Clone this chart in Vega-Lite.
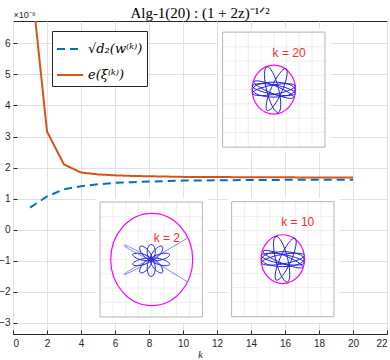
{
  "$schema": "https://vega.github.io/schema/vega-lite/v6.json",
  "width": 374,
  "height": 313,
  "autosize": {"type": "none"},
  "padding": {"left": 13, "top": 21, "right": 3, "bottom": 26},
  "background": "white",
  "title": {"text": "Alg-1(20) : (1 + 2z)⁻¹ᐟ²", "font": "Liberation Serif", "fontSize": 15, "fontWeight": "normal", "color": "#000000", "anchor": "middle", "offset": 4, "dy": 15},
  "config": {
    "view": {"stroke": "#262626", "strokeWidth": 1},
    "legend": {
      "orient": "none", "legendX": 39, "legendY": 10,
      "fillColor": "white", "strokeColor": "#262626", "padding": 4,
      "labelFont": "DejaVu Serif", "labelFontSize": 13, "labelFontStyle": "italic", "labelColor": "#000000",
      "labelOffset": 4, "rowPadding": 5,
      "symbolType": "stroke", "symbolSize": 676, "symbolStrokeWidth": 2
    }
  },
  "datasets": {
    "series": [
      {"k": 1, "v": 0.71, "s": "√d₂(w⁽ᵏ⁾)"},
      {"k": 2, "v": 1.07, "s": "√d₂(w⁽ᵏ⁾)"},
      {"k": 3, "v": 1.30, "s": "√d₂(w⁽ᵏ⁾)"},
      {"k": 4, "v": 1.40, "s": "√d₂(w⁽ᵏ⁾)"},
      {"k": 5, "v": 1.46, "s": "√d₂(w⁽ᵏ⁾)"},
      {"k": 6, "v": 1.51, "s": "√d₂(w⁽ᵏ⁾)"},
      {"k": 7, "v": 1.53, "s": "√d₂(w⁽ᵏ⁾)"},
      {"k": 8, "v": 1.55, "s": "√d₂(w⁽ᵏ⁾)"},
      {"k": 9, "v": 1.565, "s": "√d₂(w⁽ᵏ⁾)"},
      {"k": 10, "v": 1.58, "s": "√d₂(w⁽ᵏ⁾)"},
      {"k": 11, "v": 1.585, "s": "√d₂(w⁽ᵏ⁾)"},
      {"k": 12, "v": 1.59, "s": "√d₂(w⁽ᵏ⁾)"},
      {"k": 13, "v": 1.595, "s": "√d₂(w⁽ᵏ⁾)"},
      {"k": 14, "v": 1.60, "s": "√d₂(w⁽ᵏ⁾)"},
      {"k": 15, "v": 1.60, "s": "√d₂(w⁽ᵏ⁾)"},
      {"k": 16, "v": 1.605, "s": "√d₂(w⁽ᵏ⁾)"},
      {"k": 17, "v": 1.61, "s": "√d₂(w⁽ᵏ⁾)"},
      {"k": 18, "v": 1.61, "s": "√d₂(w⁽ᵏ⁾)"},
      {"k": 19, "v": 1.61, "s": "√d₂(w⁽ᵏ⁾)"},
      {"k": 20, "v": 1.61, "s": "√d₂(w⁽ᵏ⁾)"},
      {"k": 1, "v": 8.4, "s": "e(ξ⁽ᵏ⁾)"},
      {"k": 2, "v": 3.16, "s": "e(ξ⁽ᵏ⁾)"},
      {"k": 3, "v": 2.10, "s": "e(ξ⁽ᵏ⁾)"},
      {"k": 4, "v": 1.84, "s": "e(ξ⁽ᵏ⁾)"},
      {"k": 5, "v": 1.78, "s": "e(ξ⁽ᵏ⁾)"},
      {"k": 6, "v": 1.75, "s": "e(ξ⁽ᵏ⁾)"},
      {"k": 7, "v": 1.73, "s": "e(ξ⁽ᵏ⁾)"},
      {"k": 8, "v": 1.72, "s": "e(ξ⁽ᵏ⁾)"},
      {"k": 9, "v": 1.71, "s": "e(ξ⁽ᵏ⁾)"},
      {"k": 10, "v": 1.70, "s": "e(ξ⁽ᵏ⁾)"},
      {"k": 11, "v": 1.70, "s": "e(ξ⁽ᵏ⁾)"},
      {"k": 12, "v": 1.70, "s": "e(ξ⁽ᵏ⁾)"},
      {"k": 13, "v": 1.69, "s": "e(ξ⁽ᵏ⁾)"},
      {"k": 14, "v": 1.69, "s": "e(ξ⁽ᵏ⁾)"},
      {"k": 15, "v": 1.69, "s": "e(ξ⁽ᵏ⁾)"},
      {"k": 16, "v": 1.69, "s": "e(ξ⁽ᵏ⁾)"},
      {"k": 17, "v": 1.68, "s": "e(ξ⁽ᵏ⁾)"},
      {"k": 18, "v": 1.68, "s": "e(ξ⁽ᵏ⁾)"},
      {"k": 19, "v": 1.68, "s": "e(ξ⁽ᵏ⁾)"},
      {"k": 20, "v": 1.68, "s": "e(ξ⁽ᵏ⁾)"}
    ],
    "insets": [
      {"name": "k20", "k": 15.34, "v": 4.51},
      {"name": "k2", "k": 8.13, "v": -0.96},
      {"name": "k10", "k": 15.87, "v": -0.95}
    ],
    "labels": [
      {"k": 16.24, "v": 5.69, "label": "k = 20"},
      {"k": 9.05, "v": -0.27, "label": "k = 2"},
      {"k": 16.75, "v": 0.24, "label": "k = 10"}
    ]
  },
  "encoding": {
    "x": {
      "field": "k", "type": "quantitative",
      "scale": {"domain": [0, 22], "nice": false, "zero": false},
      "axis": {
        "values": [0, 2, 4, 6, 8, 10, 12, 14, 16, 18, 20, 22],
        "grid": true, "gridColor": "#e1e1e1", "domain": false,
        "tickSize": -4, "tickColor": "#262626", "labelPadding": 8,
        "labelFont": "Liberation Sans", "labelFontSize": 10, "labelColor": "#262626",
        "title": "k", "titleFont": "Liberation Serif", "titleFontStyle": "italic", "titleFontWeight": "normal",
        "titleFontSize": 11, "titleColor": "#262626", "titlePadding": 0
      }
    },
    "y": {
      "field": "v", "type": "quantitative",
      "scale": {"domain": [-3.36, 6.72], "nice": false, "zero": false},
      "axis": {
        "values": [-3, -2, -1, 0, 1, 2, 3, 4, 5, 6], "format": "d",
        "grid": true, "gridColor": "#e1e1e1", "domain": false,
        "tickSize": -4, "tickColor": "#262626", "labelPadding": 7,
        "labelFont": "Liberation Sans", "labelFontSize": 10, "labelColor": "#262626",
        "title": "×10⁻⁹", "titleAngle": 0, "titleX": 0, "titleY": -4, "titleAlign": "left", "titleBaseline": "alphabetic",
        "titleFont": "Liberation Sans", "titleFontSize": 9, "titleFontWeight": "normal", "titleColor": "#262626"
      }
    }
  },
  "layer": [
    {
      "data": {"name": "series"},
      "mark": {"type": "line", "strokeWidth": 2, "clip": true},
      "encoding": {
        "color": {"field": "s", "type": "nominal", "scale": {"domain": ["√d₂(w⁽ᵏ⁾)", "e(ξ⁽ᵏ⁾)"], "range": ["#0072BD", "#D95319"]}, "legend": {"title": null}},
        "strokeDash": {"field": "s", "type": "nominal", "scale": {"domain": ["√d₂(w⁽ᵏ⁾)", "e(ξ⁽ᵏ⁾)"], "range": [[8, 5], [1, 0]]}, "legend": {"title": null}}
      }
    },
    {
      "data": {"name": "insets"},
      "mark": {"type": "point", "shape": "M-0.97,-1.06H0.99V1.1H-0.97Z", "size": 13225, "filled": true, "fill": "white", "strokeWidth": 0, "opacity": 1}
    },
    {
      "data": {"name": "insets"},
      "mark": {"type": "point", "shape": "M-0.665,-1V1M-0.443,-1V1M-0.222,-1V1M0,-1V1M0.222,-1V1M0.443,-1V1M0.665,-1V1M-0.89,-0.744H0.89M-0.89,-0.496H0.89M-0.89,-0.248H0.89M-0.89,0H0.89M-0.89,0.248H0.89M-0.89,0.496H0.89M-0.89,0.744H0.89", "size": 13225, "filled": false, "stroke": "#ebebeb", "strokeWidth": 0.8, "opacity": 1}
    },
    {
      "data": {"name": "insets"},
      "mark": {"type": "point", "shape": "M-0.89,-1H0.89V1H-0.89Z", "size": 13225, "filled": false, "stroke": "#b4b4b4", "strokeWidth": 1, "opacity": 1}
    },
    {
      "data": {"name": "insets"},
      "transform": [{"filter": "datum.name !== 'k2'"}],
      "mark": {"type": "point", "shape": "M-0.378,0A0.378,0.425,0,1,0,0.378,0A0.378,0.425,0,1,0,-0.378,0", "size": 13225, "filled": false, "stroke": "#ff00ff", "strokeWidth": 1.2, "opacity": 1}
    },
    {
      "data": {"name": "insets"},
      "transform": [{"filter": "datum.name === 'k2'"}],
      "mark": {"type": "point", "shape": "M-0.704,0A0.713,0.803,0,1,0,0.722,0A0.713,0.803,0,1,0,-0.704,0", "size": 13225, "filled": false, "stroke": "#ff00ff", "strokeWidth": 1.2, "opacity": 1}
    },
    {
      "data": {"name": "insets"},
      "transform": [{"filter": "datum.name !== 'k2'"}],
      "mark": {"type": "point", "shape": "M0.079,0.397A0.409,0.104,76,0,1,-0.119,-0.397A0.409,0.104,76,0,1,0.079,0.397M0.213,-0.365A0.4,0.1,-66,0,1,-0.113,0.365A0.4,0.1,-66,0,1,0.213,-0.365M0.374,-0.066A0.38,0.085,-10,0,1,-0.374,0.066A0.38,0.085,-10,0,1,0.374,-0.066M0.374,0.066A0.38,0.085,10,0,1,-0.374,-0.066A0.38,0.085,10,0,1,0.374,0.066M0.37,0A0.37,0.13,0,0,1,-0.37,0A0.37,0.13,0,0,1,0.37,0M0.343,0.139A0.37,0.07,22,0,1,-0.343,-0.139A0.37,0.07,22,0,1,0.343,0.139", "size": 13225, "filled": false, "stroke": "#2222dd", "strokeWidth": 1, "opacity": 1}
    },
    {
      "data": {"name": "insets"},
      "transform": [{"filter": "datum.name === 'k2'"}],
      "mark": {"type": "point", "shape": "M0,0A0.13,0.07,-90,0,1,0,-0.261A0.13,0.07,-90,0,1,0,0M0,0A0.148,0.07,90,0,1,0,0.296A0.148,0.07,90,0,1,0,0M0,0A0.165,0.052,-15,0,1,0.319,-0.086A0.165,0.052,-15,0,1,0,0M0,0A0.165,0.052,15,0,1,0.319,0.086A0.165,0.052,15,0,1,0,0M0,0A0.165,0.052,-165,0,1,-0.319,-0.086A0.165,0.052,-165,0,1,0,0M0,0A0.165,0.052,165,0,1,-0.319,0.086A0.165,0.052,165,0,1,0,0M0,0A0.148,0.061,-50,0,1,0.19,-0.227A0.148,0.061,-50,0,1,0,0M0,0A0.148,0.061,-130,0,1,-0.19,-0.227A0.148,0.061,-130,0,1,0,0M0,0A0.148,0.061,50,0,1,0.19,0.227A0.148,0.061,50,0,1,0,0M0,0A0.148,0.061,130,0,1,-0.19,0.227A0.148,0.061,130,0,1,0,0M-0.035,0A0.035,0.035,0,1,0,0.035,0A0.035,0.035,0,1,0,-0.035,0", "size": 13225, "filled": false, "stroke": "#2222dd", "strokeWidth": 1, "opacity": 1}
    },
    {
      "data": {"name": "insets"},
      "transform": [{"filter": "datum.name === 'k2'"}],
      "mark": {"type": "point", "shape": "M0,0A0.264,0.022,-152.6,0,1,-0.47,-0.244A0.264,0.022,-152.6,0,1,0,0M0,0A0.27,0.022,151,0,1,-0.47,0.261A0.27,0.022,151,0,1,0,0M0,0L0.621,-0.365M0,0L0.621,0.383", "size": 13225, "filled": false, "stroke": "#4444ee", "strokeWidth": 0.8, "opacity": 0.8}
    },
    {
      "data": {"name": "labels"},
      "mark": {"type": "text", "font": "Liberation Sans", "fontSize": 12, "color": "#ff2a2a", "align": "center", "baseline": "middle"},
      "encoding": {"text": {"field": "label"}}
    }
  ]
}
